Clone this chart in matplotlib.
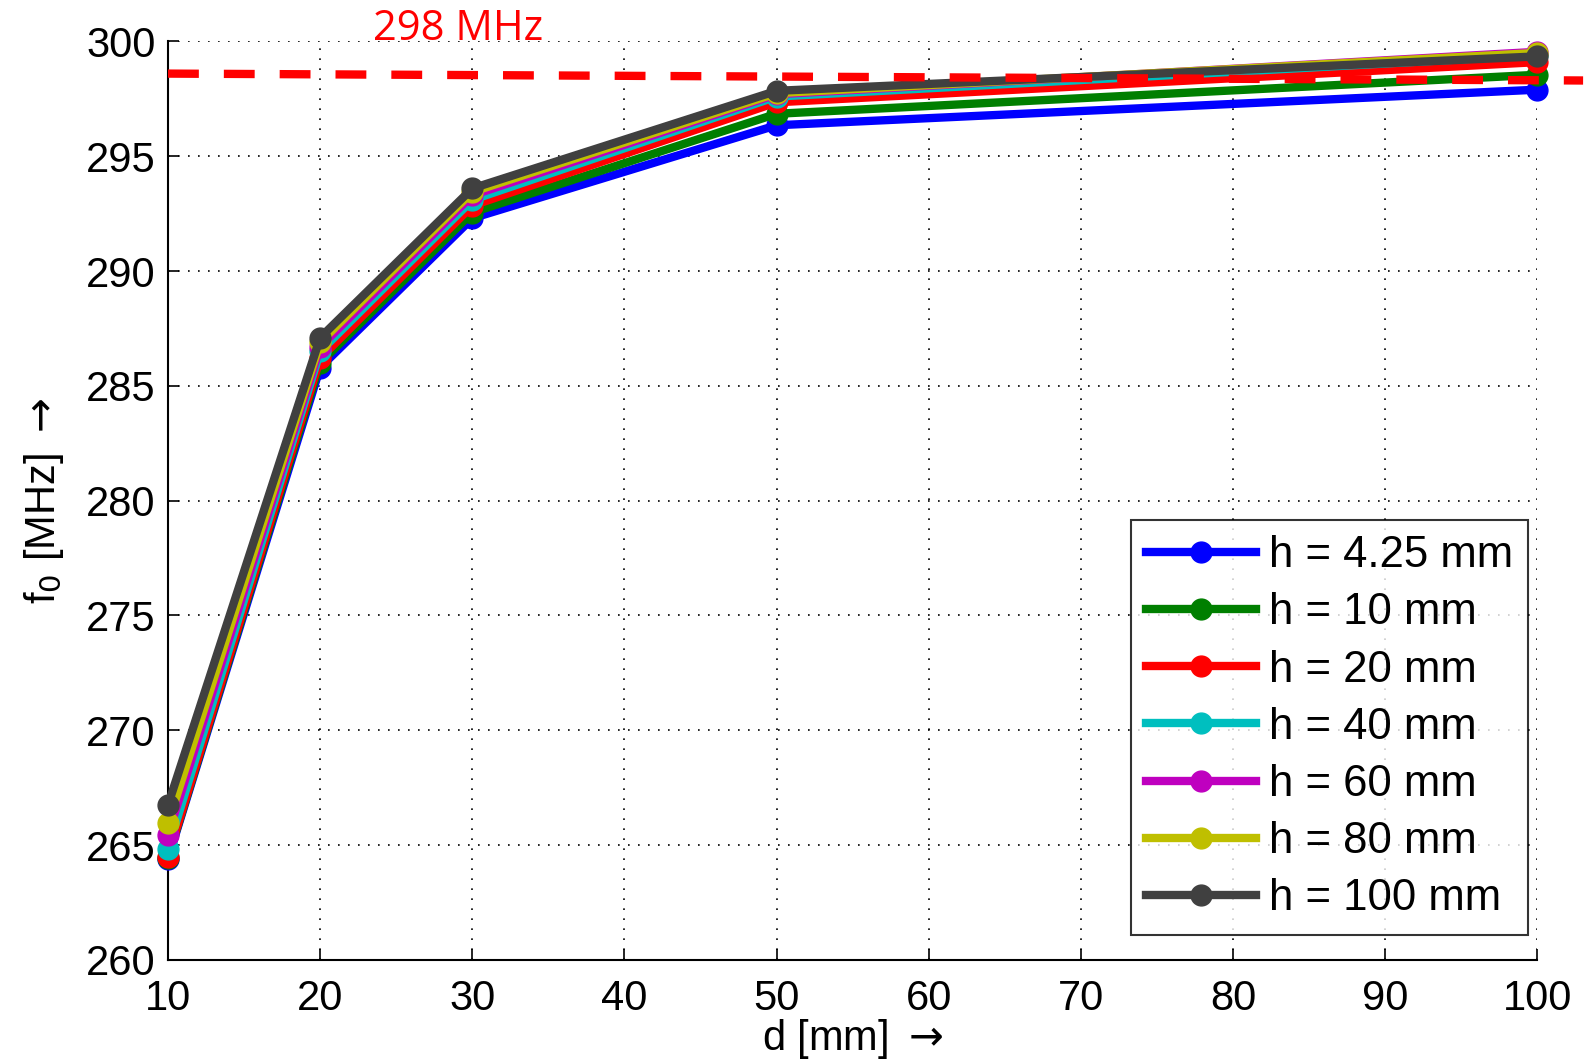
import matplotlib
matplotlib.use("Agg")
import matplotlib.pyplot as plt
from matplotlib.lines import Line2D

plt.rcParams['font.family'] = ['Liberation Sans', 'DejaVu Sans']

d = [10, 20, 30, 50, 100]
labels = ["h = 4.25 mm", "h = 10 mm", "h = 20 mm", "h = 40 mm",
          "h = 60 mm", "h = 80 mm", "h = 100 mm"]
colors = ["#0000ff", "#007f00", "#ff0000", "#00bfbf", "#bf00bf", "#bfbf00", "#404040"]
f0 = [
    [264.40, 285.80, 292.30, 296.35, 297.90],
    [264.45, 286.00, 292.55, 296.85, 298.55],
    [264.50, 286.20, 292.85, 297.35, 299.10],
    [264.85, 286.50, 293.10, 297.60, 299.40],
    [265.45, 286.70, 293.30, 297.70, 299.55],
    [265.95, 286.90, 293.45, 297.75, 299.50],
    [266.75, 287.10, 293.60, 297.85, 299.35],
]
xticks = [10, 20, 30, 40, 50, 60, 70, 80, 90, 100]
yticks = [260, 265, 270, 275, 280, 285, 290, 295, 300]
ref_line = [298.6, 298.3]  # dashed red reference (slightly tilted annotation)

fig = plt.figure(figsize=(15.85, 10.63), dpi=100)
ax = fig.add_axes([0.106, 0.097, 0.864, 0.864])

for y, c, lab in zip(f0, colors, labels):
    ax.plot(d, y, color=c, lw=6, marker='o', ms=15, mfc=c, mec=c, label=lab,
            solid_joinstyle='round', clip_on=False, zorder=3)

ax.set_xlim(10, 100)
ax.set_ylim(260, 300)
ax.set_xticks(xticks)
ax.set_yticks(yticks)
ax.tick_params(direction='in', length=8, width=1.2, labelsize=30)
ax.tick_params(axis='x', pad=14)
ax.tick_params(axis='y', pad=9)
ax.grid(True, linestyle=(0, (1, 5)), color='black', lw=1.2)
ax.spines['top'].set_visible(False)
ax.spines['right'].set_visible(False)
for s in ['left', 'bottom']:
    ax.spines[s].set_linewidth(1.5)

ax.set_xlabel(r"d [mm] $\rightarrow$", fontsize=30, labelpad=-2)
ax.set_ylabel(r"f$_0$ [MHz] $\rightarrow$", fontsize=30, labelpad=14)

# Red dashed reference line (annotation overlay extending past the axes)
ln = Line2D([10, 103], ref_line, color='#ff0000', lw=6, ls=(0, (3.7, 3.0)),
            transform=ax.transData, clip_on=False, zorder=5)
ax.add_line(ln)
fig.text(0.289, 0.973, "298 MHz", color='#ff0000', fontsize=30,
         family=['Open Sans', 'DejaVu Sans'], ha='center', va='center')

leg = ax.legend(loc='lower right', bbox_to_anchor=(0.9934, 0.0275), fontsize=31.5,
                frameon=True, fancybox=False, edgecolor='black', handlelength=2.5,
                borderpad=0.35, labelspacing=0.37, handletextpad=0.3,
                borderaxespad=0.0)
leg.get_frame().set_linewidth(1.5)

fig.savefig("out.png", dpi=100)
